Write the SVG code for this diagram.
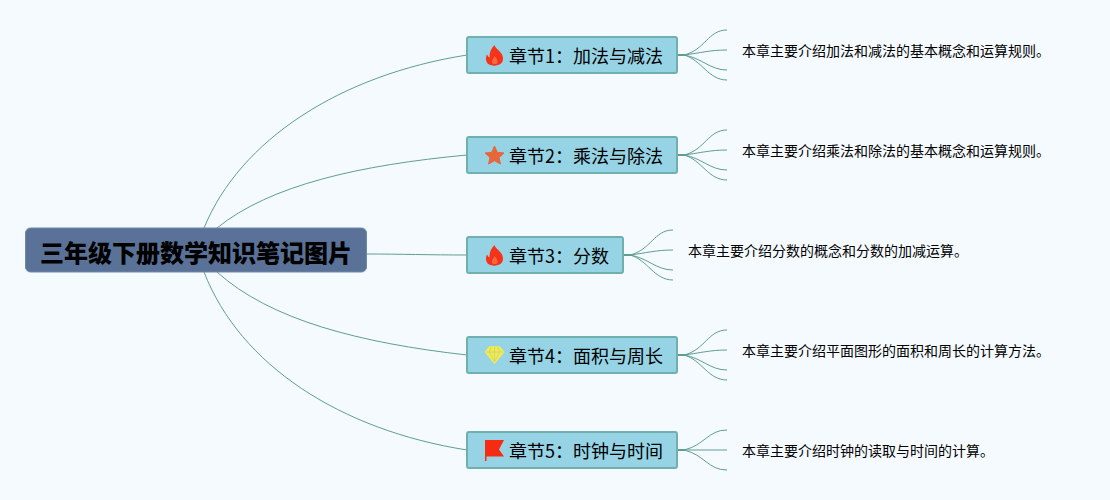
<svg xmlns="http://www.w3.org/2000/svg" width="1110" height="500" viewBox="0 0 1110 500">
<style>
text{font-family:"Noto Sans CJK SC","Liberation Sans",sans-serif;fill:#000}
.root{fill:#5a7298;stroke:#6d8aa8;stroke-width:1}
.rt{font-size:24px;font-weight:900}
.ch{fill:#96d3e5;stroke:#6fb0ae;stroke-width:2}
.ct{font-size:18px}
.dt{font-size:14px}
#connectors path{fill:none;stroke:#5f9e92;stroke-width:1}
#connectors path.stub{stroke-width:2}
</style>
<defs>
<g id="fire">
<path d="M9 0C10 4 14 5 16.500 9.500C18.500 14 17.500 17.500 14 19.500C11 21 6.500 21 3.500 19.500C0.500 17.500 -0.500 13.500 1.500 9.500C2.300 11 3 12 4 12.500C3.800 7.500 5.500 3.500 9 0Z" fill="#f5331a"/>
<path d="M9 11C8 13.500 6 15 6.500 17.500C7 19.500 11.500 19.500 12 17.500C12.500 15 10.500 13 9 11Z" fill="#f9683f"/>
</g>
</defs>
<rect width="1110" height="500" fill="#f5faff"/>
<g id="connectors">
<path d="M204 228C240 140 340 75 467 55"/>
<path d="M217 228C270 185 360 165 467 155"/>
<path d="M367 254C400 254 430 255 467 255"/>
<path d="M217 272C270 320 360 343 467 355"/>
<path d="M204 272C240 365 340 430 467 450"/>
<path class="stub" d="M677 55H686"/>
<path d="M684 55C705 50 708 30 727 30"/><path d="M684 55C700 53 710 50 727 50"/><path d="M684 55C702 58 710 70 727 70"/><path d="M684 55C702 60 708 80 727 80"/>
<path class="stub" d="M677 155H686"/>
<path d="M684 155C705 150 708 130 727 130"/><path d="M684 155C700 153 710 150 727 150"/><path d="M684 155C702 158 710 170 727 170"/><path d="M684 155C702 160 708 180 727 180"/>
<path class="stub" d="M623 255H632"/>
<path d="M630 255C651 250 654 230 673 230"/><path d="M630 255C646 253 656 250 673 250"/><path d="M630 255C648 258 656 270 673 270"/><path d="M630 255C648 260 654 280 673 280"/>
<path class="stub" d="M677 355H686"/>
<path d="M684 355C705 350 708 330 727 330"/><path d="M684 355C700 353 710 350 727 350"/><path d="M684 355C702 358 710 370 727 370"/><path d="M684 355C702 360 708 380 727 380"/>
<path class="stub" d="M677 450H686"/>
<path d="M684 450C705 445 708 430 727 430"/><path d="M684 450H727"/><path d="M684 450C705 455 708 470 727 470"/>
</g>
<g id="root"><rect class="root" x="25.500" y="228" width="341" height="44" rx="5"/><text class="rt" x="40" y="262">三年级下册数学知识笔记图片</text></g>
<g id="chapter1"><rect class="ch" x="467" y="37" width="210" height="36" rx="2"/><use href="#fire" x="485.500" y="45"/><text class="ct" x="509" y="62.500">章节1：加法与减法</text></g>
<g id="desc1"><text class="dt" x="742" y="56">本章主要介绍加法和减法的基本概念和运算规则。</text></g>
<g id="chapter2"><rect class="ch" x="467" y="137" width="210" height="36" rx="2"/><polygon points="494.500,146 497.300,152.300 504,153 499,157.500 500.500,164 494.500,160.700 488.500,164 490,157.500 485,153 491.700,152.300" fill="#e8673a" stroke="#e8673a" stroke-linejoin="round"/><text class="ct" x="509" y="162.500">章节2：乘法与除法</text></g>
<g id="desc2"><text class="dt" x="742" y="156">本章主要介绍乘法和除法的基本概念和运算规则。</text></g>
<g id="chapter3"><rect class="ch" x="467" y="237" width="156" height="36" rx="2"/><use href="#fire" x="485.500" y="245"/><text class="ct" x="509" y="262.500">章节3：分数</text></g>
<g id="desc3"><text class="dt" x="688" y="256">本章主要介绍分数的概念和分数的加减运算。</text></g>
<g id="chapter4"><rect class="ch" x="467" y="337" width="210" height="36" rx="2"/><polygon points="489.500,347 499.500,347 503.500,352 494.500,363 485.500,352" fill="#f2ea55" stroke="#f2ea55" stroke-width="1.500" stroke-linejoin="round"/><path d="M486 352H503M491 347L489.500 352L494.500 362L499.500 352L498 347M494.500 347V362" fill="none" stroke="#c9d56a" stroke-width=".8"/><text class="ct" x="509" y="362.500">章节4：面积与周长</text></g>
<g id="desc4"><text class="dt" x="742" y="356">本章主要介绍平面图形的面积和周长的计算方法。</text></g>
<g id="chapter5"><rect class="ch" x="467" y="432" width="210" height="36" rx="2"/><path d="M485 440H504L499 449.500L504 456.500H486.500V461H485Z" fill="#f52c12"/><text class="ct" x="509" y="457.500">章节5：时钟与时间</text></g>
<g id="desc5"><text class="dt" x="742" y="456">本章主要介绍时钟的读取与时间的计算。</text></g>
</svg>
